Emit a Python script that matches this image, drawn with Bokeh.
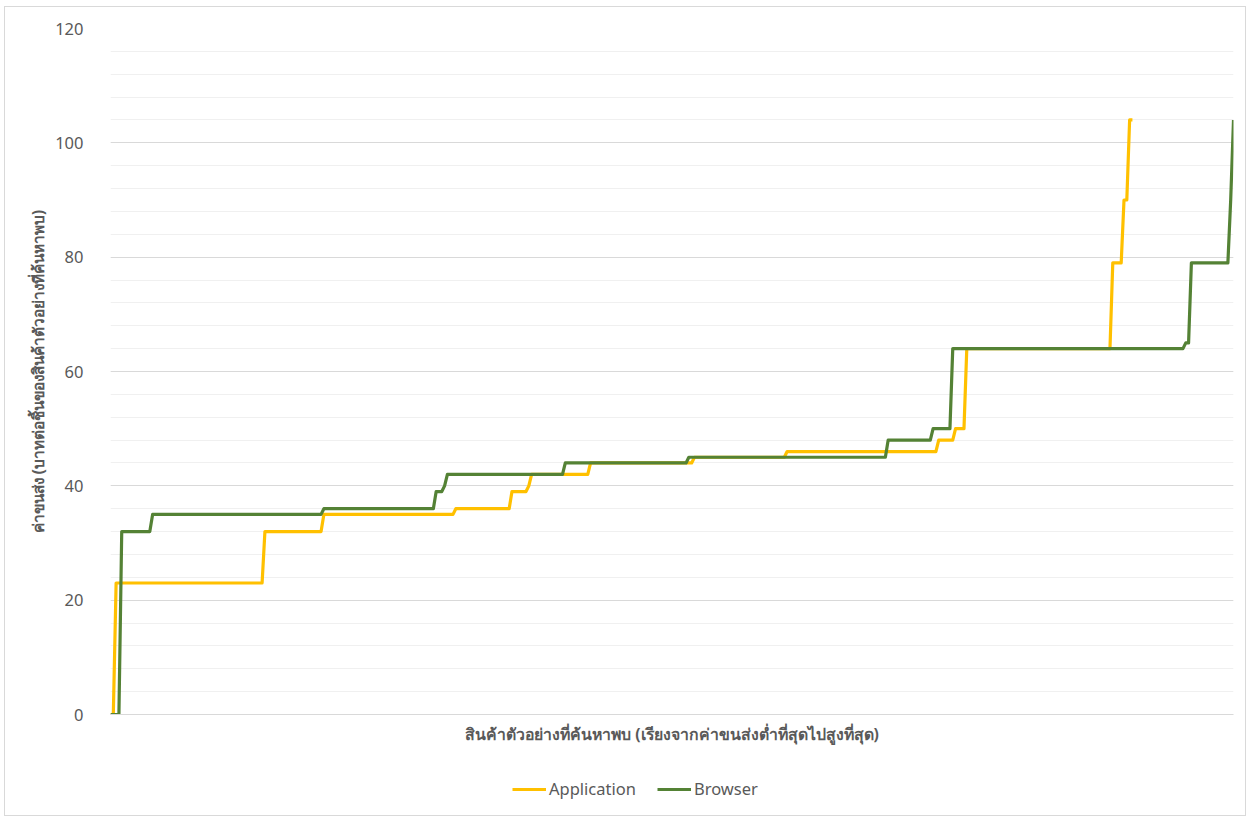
import numpy as np
from bokeh.plotting import figure
from bokeh.layouts import column
from bokeh.models import Range1d, SingleIntervalTicker, FixedTicker, Legend, LegendItem
from bokeh.embed import file_html
from bokeh.resources import INLINE

# Run-length encoded step data (value, number of ranked samples)
app_levels = [0, 23, 32, 35, 36, 39, 40, 42, 44, 45, 46, 48, 50, 64, 79, 90, 104]
app_counts = [2, 53, 21, 47, 20, 6, 1, 21, 37, 33, 54, 6, 4, 52, 4, 2, 2]

browser_levels = [0, 32, 35, 36, 39, 40, 42, 44, 45, 48, 50, 64, 65, 79, 90, 104]
browser_counts = [4, 11, 61, 40, 3, 1, 42, 44, 71, 16, 7, 83, 2, 14, 1, 1]

series_names = ["Application", "Browser"]
series_colors = ["#FFC000", "#548235"]

x_title = "สินค้าตัวอย่างที่ค้นหาพบ (เรียงจากค่าขนส่งต่ำที่สุดไปสูงที่สุด)"
y_title = "ค่าขนส่ง (บาทต่อชิ้นของสินค้าตัวอย่างที่ค้นหาพบ)"

app_y = np.repeat(app_levels, app_counts)
browser_y = np.repeat(browser_levels, browser_counts)
app_x = np.arange(len(app_y))
browser_x = np.arange(len(browser_y))

FONT = "Noto Sans, Tahoma, sans-serif"
TXT = "#595959"

p = figure(width=1240, height=740, output_backend="svg", toolbar_location=None,
           x_range=Range1d(0, len(browser_y) - 1), y_range=Range1d(0, 120),
           min_border_left=105, min_border_right=12, min_border_top=21, min_border_bottom=33)
p.outline_line_color = None
p.background_fill_color = "white"
p.border_fill_color = "white"

r1 = p.line(app_x, app_y, line_color=series_colors[0], line_width=3.2, line_join="round")
r2 = p.line(browser_x, browser_y, line_color=series_colors[1], line_width=3.2, line_join="round")

# y axis
p.yaxis.ticker = SingleIntervalTicker(interval=20, num_minor_ticks=5)
p.yaxis.axis_line_color = None
p.yaxis.major_tick_line_color = None
p.yaxis.minor_tick_line_color = None
p.yaxis.major_label_text_font = FONT
p.yaxis.major_label_text_font_size = "16.5px"
p.yaxis.major_label_text_color = TXT
p.yaxis.major_label_standoff = 21
p.yaxis.axis_label = y_title
p.yaxis.axis_label_text_font = FONT
p.yaxis.axis_label_text_font_size = "15.3px"
p.yaxis.axis_label_text_font_style = "bold"
p.yaxis.axis_label_text_color = TXT
p.yaxis.axis_label_standoff = 4

# x axis
p.xaxis.ticker = FixedTicker(ticks=[])
p.xaxis.axis_line_color = "#d9d9d9"
p.xaxis.axis_line_width = 1
p.xaxis.major_tick_line_color = None
p.xaxis.minor_tick_line_color = None
p.xaxis.major_label_text_font_size = "0px"
p.xaxis.axis_label = x_title
p.xaxis.axis_label_text_font = FONT
p.xaxis.axis_label_text_font_size = "15.8px"
p.xaxis.axis_label_text_font_style = "bold"
p.xaxis.axis_label_text_color = TXT
p.xaxis.axis_label_standoff = 8

# grid
p.xgrid.grid_line_color = None
p.ygrid.ticker = SingleIntervalTicker(interval=20, num_minor_ticks=5)
p.ygrid.grid_line_color = "#d9d9d9"
p.ygrid.grid_line_width = 1
p.ygrid.minor_grid_line_color = "#f0f0f0"
p.ygrid.minor_grid_line_width = 1

# legend strip below the chart (its frame aligns with the main frame)
pl = figure(width=1240, height=68, output_backend="svg", toolbar_location=None,
            x_range=Range1d(0, 1), y_range=Range1d(0, 1),
            min_border_left=0, min_border_right=0, min_border_top=0, min_border_bottom=0)
pl.axis.visible = False
pl.grid.visible = False
pl.outline_line_color = None
pl.border_fill_color = "white"
l1 = pl.line([5, 6], [5, 6], line_color=series_colors[0], line_width=3.2)
l2 = pl.line([5, 6], [5, 6], line_color=series_colors[1], line_width=3.2)

legend = Legend(items=[LegendItem(label=series_names[0], renderers=[l1]),
                       LegendItem(label=series_names[1], renderers=[l2])],
                orientation="horizontal", location=(402, 15))
legend.label_text_font = FONT
legend.label_text_font_size = "16.5px"
legend.label_text_color = TXT
legend.border_line_color = None
legend.background_fill_alpha = 0
legend.glyph_width = 34
legend.label_standoff = 3
legend.spacing = 21
legend.margin = 0
legend.padding = 0
pl.add_layout(legend, "center")

layout = column(p, pl, spacing=0)
layout.margin = (7, 0, 0, 5)
layout.styles = {"outline": "1px solid #d9d9d9"}

open("out.html", "w").write(file_html(layout, INLINE))
